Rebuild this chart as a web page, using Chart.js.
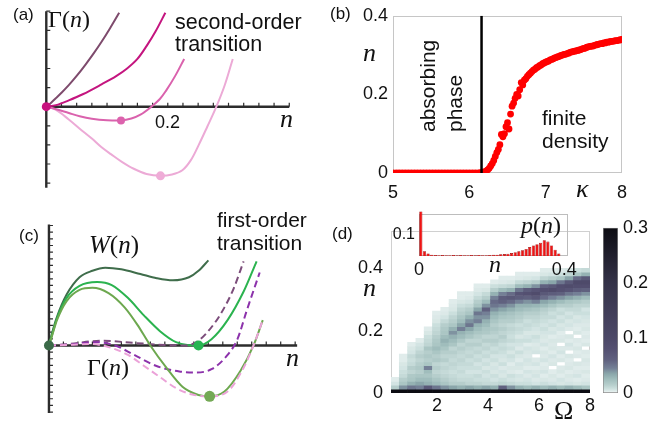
<!DOCTYPE html>
<html><head><meta charset="utf-8">
<script src="https://cdn.jsdelivr.net/npm/chart.js@4.4.1/dist/chart.umd.min.js"></script>
<style>
html,body{margin:0;padding:0;background:#fff;width:670px;height:429px;overflow:hidden;}
#wrap{position:relative;width:670px;height:429px;}
canvas{position:absolute;}
.t{position:absolute;white-space:nowrap;line-height:1;color:#111;font-family:"Liberation Sans",Arial,sans-serif;}
.m{font-family:"Liberation Serif","Times New Roman",serif;}
.rot{transform-origin:0 0;transform:rotate(-90deg);}
</style></head>
<body><div id="wrap">
<canvas id="cA" width="320" height="200" style="left:0;top:0"></canvas>
<canvas id="cC" width="320" height="229" style="left:0;top:200px"></canvas>
<canvas id="cB" width="350" height="210" style="left:320px;top:0"></canvas>
<canvas id="cD" width="290" height="217" style="left:320px;top:212px"></canvas>
<canvas id="cBar" width="80" height="200" style="left:590px;top:212px"></canvas>
<canvas id="cIn" width="200" height="82" style="left:380px;top:200px"></canvas>

<div class="t" style="left:13px;top:6px;font-size:17px">(a)</div>
<div class="t m" style="left:48px;top:7px;font-size:24px">Γ(<i>n</i>)</div>
<div class="t" style="left:175px;top:12px;font-size:21.5px">second-order</div>
<div class="t" style="left:175px;top:34px;font-size:21.5px">transition</div>
<div class="t m" style="left:280px;top:106px;font-size:26px"><i>n</i></div>
<div class="t" style="left:155px;top:113px;font-size:18px">0.2</div>

<div class="t" style="left:330px;top:5px;font-size:17px">(b)</div>
<div class="t m" style="left:363px;top:40px;font-size:26px"><i>n</i></div>
<div class="t rot" style="left:417px;top:132px;font-size:21px">absorbing</div>
<div class="t rot" style="left:444px;top:132px;font-size:21px">phase</div>
<div class="t" style="left:542px;top:107px;font-size:21px">finite</div>
<div class="t" style="left:542px;top:130px;font-size:21px">density</div>
<div class="t m" style="left:576px;top:176px;font-size:26px"><i>κ</i></div>

<div class="t" style="left:19px;top:227px;font-size:17px">(c)</div>
<div class="t m" style="left:89px;top:232px;font-size:25px"><i>W</i>(<i>n</i>)</div>
<div class="t m" style="left:87px;top:355px;font-size:24px">Γ(<i>n</i>)</div>
<div class="t" style="left:217px;top:209px;font-size:21px">first-order</div>
<div class="t" style="left:217px;top:232px;font-size:21px">transition</div>
<div class="t m" style="left:286px;top:345px;font-size:26px"><i>n</i></div>

<div class="t" style="left:332px;top:225px;font-size:17px">(d)</div>
<div class="t m" style="left:363px;top:275px;font-size:26px"><i>n</i></div>
<div class="t m" style="left:554px;top:398px;font-size:26px">Ω</div>
<div class="t m" style="left:521px;top:213px;font-size:24px"><i>p</i>(<i>n</i>)</div>
<div class="t m" style="left:489px;top:252px;font-size:24px"><i>n</i></div>
</div>
<script>
// ---------------- DATA ----------------
// (a) second-order: Gamma(n) curves
const a1N=[0,0.008,0.016,0.025,0.037,0.05,0.064,0.078,0.091,0.105,0.12];
const a1G=[0,0.21,0.45,0.73,1.13,1.61,2.18,2.79,3.4,4.11,4.92];
const a2N=[0,0.016,0.037,0.06,0.091,0.115,0.133,0.15,0.165,0.18,0.196];
const a2G=[0,0.08,0.33,0.65,1.17,1.6,2.0,2.5,3.17,3.95,4.92];
const a3N=[0,0.015,0.037,0.055,0.075,0.1,0.123,0.14,0.155,0.173,0.187,0.197,0.212,0.227];
const a3G=[0,-0.12,-0.33,-0.5,-0.63,-0.71,-0.72,-0.62,-0.42,0,0.4,0.83,1.6,2.5];
const a4N=[0,0.016,0.037,0.055,0.075,0.09,0.107,0.125,0.144,0.165,0.188,0.207,0.224,0.238,0.251,0.265,0.28,0.294,0.307];
const a4G=[0,-0.17,-0.67,-1.15,-1.67,-2.1,-2.5,-2.9,-3.25,-3.52,-3.62,-3.55,-3.33,-2.8,-2.0,-1.05,0,1.15,2.5];
const aDotN=[0,0.123,0.188];
const aDotG=[0,-0.72,-3.62];
const aTicksX=[0.025,0.05,0.075,0.1,0.125,0.15,0.175,0.2,0.225,0.25,0.275,0.3,0.325,0.35,0.375,0.4];
const aTicksY=[-4,-3,-2,-1,1,2,3,4,5];

// (b) order parameter n vs kappa
const kappa=[5.00,5.04,5.08,5.12,5.16,5.20,5.24,5.28,5.32,5.36,
5.40,5.44,5.48,5.52,5.56,5.60,5.64,5.68,5.72,5.76,
5.80,5.84,5.88,5.92,5.96,6.00,6.04,6.08,6.12,6.14,
6.16,6.18,6.20,6.22,6.24,6.26,6.28,6.30,6.32,6.34,
6.36,6.38,6.40,6.42,6.44,6.46,6.48,6.50,6.52,6.54,
6.56,6.58,6.60,6.62,6.64,6.66,6.68,6.70,6.72,6.74,
6.76,6.78,6.80,6.82,6.84,6.86,6.88,6.90,6.92,6.94,
6.96,6.98,7.00,7.02,7.04,7.06,7.08,7.10,7.12,7.14,
7.16,7.18,7.20,7.22,7.24,7.26,7.28,7.30,7.32,7.34,
7.36,7.38,7.40,7.42,7.44,7.46,7.48,7.50,7.52,7.54,
7.56,7.58,7.60,7.62,7.64,7.66,7.68,7.70,7.72,7.74,
7.76,7.78,7.80,7.82,7.84,7.86,7.88,7.90,7.92,7.94,
7.96,7.98,8.00];
const nB=[0,0,0,0,0,0,0,0,0,0,
0,0,0,0,0,0,0,0,0,0,
0,0,0,0,0,0,0,0,0,0,
0.001,0.002,0.003,0.005,0.008,0.012,0.018,0.024,0.032,0.042,
0.052,0.060,0.072,0.098,0.092,0.100,0.118,0.128,0.112,0.150,
0.170,0.178,0.190,0.200,0.196,0.212,0.230,0.224,0.236,0.240,
0.246,0.250,0.254,0.258,0.262,0.264,0.268,0.270,0.273,0.275,
0.278,0.280,0.282,0.284,0.285,0.288,0.289,0.291,0.293,0.294,
0.296,0.297,0.299,0.300,0.302,0.302,0.304,0.305,0.307,0.308,
0.309,0.310,0.311,0.312,0.313,0.314,0.316,0.317,0.318,0.320,
0.321,0.322,0.323,0.323,0.325,0.326,0.327,0.328,0.329,0.329,
0.331,0.331,0.333,0.333,0.334,0.335,0.335,0.336,0.337,0.337,
0.338,0.339,0.340];
const kappaCrit=6.16;
const bTicksX=[5,6,7,8];
const bTicksY=[0,0.2,0.4];

// (c) first-order: W(n) (solid) and Gamma(n) (dashed)
const cWN=[0,0.0052,0.013,0.0286,0.0495,0.0703,0.0911,0.117,0.148,0.1745,0.2005,0.2266,0.242,0.258];
const cWV=[0,0.67,1.5,2.67,3.58,3.92,4.08,4.0,3.75,3.53,3.42,3.58,3.92,4.47];
const cGN=[0,0.0052,0.013,0.0286,0.0495,0.078,0.1016,0.1276,0.1536,0.1797,0.2057,0.224,0.242,0.263,0.289,0.315,0.336];
const cGV=[0,0.58,1.42,2.5,3.13,3.33,3.17,2.5,1.58,0.75,0.17,0.02,0,0.33,1.33,2.83,4.42];
const cON=[0,0.0052,0.013,0.0286,0.0495,0.0703,0.0964,0.1224,0.1432,0.164,0.19,0.216,0.242,0.26,0.284,0.31,0.331,0.346];
const cOV=[0,0.53,1.33,2.33,2.92,3.03,2.75,2.0,1.08,0,-1.17,-2.17,-2.6,-2.67,-2.42,-1.33,0,1.33];
const dMN=[0,0.034,0.086,0.138,0.19,0.221,0.242,0.268,0.284,0.299,0.315];
const dMV=[0,0.08,0.25,0.13,0.02,0,0.25,1.17,2.0,3.0,4.42];
const dPN=[0,0.034,0.076,0.107,0.138,0.174,0.211,0.237,0.263,0.289,0.305,0.32,0.341];
const dPV=[0,0.05,0.17,0,-0.5,-1.08,-1.37,-1.42,-1.25,-0.5,0.33,1.83,3.83];
const dKN=[0,0.034,0.065,0.096,0.128,0.154,0.18,0.206,0.232,0.26,0.289,0.315,0.331,0.346];
const dKV=[0,0.03,0.08,-0.08,-0.5,-1.08,-1.67,-2.25,-2.58,-2.67,-2.42,-1.17,0,1.33];
const cDotN=[0,0.242,0.26];
const cDotV=[0,0,-2.67];
const cTicksX=[0.0234,0.0469,0.0703,0.0938,0.1172,0.1406,0.1641,0.1875,0.2109,0.2344,0.2578,0.2813,0.3047,0.3281,0.3516,0.375,0.3984];
const cTicksY=[-3.5,-3.15,-2.8,-2.45,-2.1,-1.75,-1.4,-1.05,-0.7,-0.35,0.35,0.7,1.05,1.4,1.75,2.1,2.45,2.8,3.15,3.5,3.85,4.2,4.55,4.9,5.25,5.6,5.95,6.3];

// (d) histogram heat map p(n) vs Omega (values in thousandths), rows from n=0 upward
const omegaCenters=[0.3625,0.6875,1.0125,1.3375,1.6625,1.9875,2.3125,2.6375,2.9625,3.2875,3.6125,3.9375,4.2625,4.5875,4.9125,5.2375,5.5625,5.8875,6.2125,6.5375,6.8625,7.1875,7.5125,7.8375];
const nBinWidth=0.0125;
const heatCols=[
[300,15,6,3,0,0,0,0,0,0,0,0,0,0,0,0,0,0,0,0,0,0,0,0,0,0,0,0,0,0,0,0],
[300,40,20,15,10,8,6,5,3,3,0,0,0,0,0,0,0,0,0,0,0,0,0,0,0,0,0,0,0,0,0,0],
[300,50,30,20,18,12,15,10,8,10,6,5,3,0,0,0,0,0,0,0,0,0,0,0,0,0,0,0,0,0,0,0],
[300,45,35,25,20,15,18,15,12,15,12,8,6,3,0,0,0,0,0,0,0,0,0,0,0,0,0,0,0,0,0,0],
[300,70,30,25,20,25,45,20,15,18,15,20,12,10,8,5,3,0,0,0,0,0,0,0,0,0,0,0,0,0,0,0],
[300,50,25,20,15,12,15,12,18,15,20,25,20,18,15,12,10,8,5,4,3,0,0,0,0,0,0,0,0,0,0,0],
[300,40,20,15,12,10,12,10,15,12,15,20,25,30,25,20,18,15,10,6,4,3,0,0,0,0,0,0,0,0,0,0],
[300,35,15,12,10,8,10,12,10,12,15,12,20,25,30,40,30,20,15,12,8,5,4,3,0,0,0,0,0,0,0,0],
[300,30,15,10,8,10,8,10,12,10,12,15,12,18,25,30,45,35,25,20,15,12,8,5,3,3,0,0,0,0,0,0],
[300,35,12,10,8,6,8,10,8,12,10,12,15,12,20,25,35,50,40,30,20,15,10,6,4,3,0,0,0,0,0,0],
[300,30,12,8,10,6,8,6,10,8,12,10,15,12,15,20,25,30,45,40,50,35,20,15,10,6,4,3,0,0,0,0],
[300,35,10,8,6,8,5,8,6,10,8,12,10,15,12,18,20,25,30,40,45,60,40,25,15,10,5,3,0,0,0,0],
[300,30,10,6,8,5,6,5,8,6,10,8,12,15,12,15,18,15,20,25,30,40,50,55,45,30,15,8,3,0,0,0],
[300,60,12,8,5,6,4,8,5,6,8,10,8,12,15,12,15,12,15,20,25,35,45,60,65,45,25,10,4,3,0,0],
[300,40,10,6,8,4,5,3,6,8,5,8,6,10,8,10,12,10,15,18,22,30,40,55,70,55,30,12,5,3,0,0],
[300,30,8,5,6,3,5,6,3,5,8,4,6,8,5,8,10,8,12,15,18,25,30,45,65,75,50,25,10,4,3,0],
[300,25,8,6,4,6,3,5,6,4,5,6,3,8,6,5,8,10,8,12,15,22,30,40,60,80,65,30,12,5,3,0],
[300,30,6,4,6,5,3,6,4,0,6,5,4,6,8,5,6,8,10,12,15,20,28,45,70,90,75,40,15,6,3,0],
[300,25,8,5,3,6,4,3,6,4,5,3,6,4,5,6,8,6,8,10,12,15,25,35,55,70,85,60,30,12,5,3],
[300,30,6,4,5,3,0,5,4,6,3,5,4,5,3,6,5,8,6,10,8,12,20,30,45,65,90,70,35,15,6,3],
[300,25,5,6,3,5,4,0,5,3,6,4,0,5,4,3,6,5,8,6,10,8,15,25,40,60,80,85,50,20,8,4],
[300,30,6,4,5,3,5,4,3,5,0,4,6,3,5,0,4,6,5,8,6,10,15,20,35,50,75,90,70,35,12,5],
[300,25,5,3,6,4,3,5,0,4,3,5,3,4,0,5,3,4,6,5,8,10,12,18,30,45,65,85,95,55,20,8],
[300,20,6,4,3,5,3,4,5,3,4,0,5,3,4,3,5,4,5,6,8,6,12,15,25,40,60,85,95,70,30,10]
];
const dTicksX=[2,4,6,8];
const dTicksY=[0,0.2,0.4];
const cbarTicks=[0,0.1,0.2,0.3];

// (d) inset histogram p(n)
const nHist=[0.005,0.015,0.025,0.035,0.045,0.055,0.065,0.075,0.085,0.095,0.105,0.115,0.125,0.135,0.145,0.155,0.165,0.175,0.185,0.195,0.205,0.215,0.225,0.235,0.245,0.255,0.265,0.275,0.285,0.295,0.305,0.315,0.325,0.335,0.345,0.355,0.365,0.375,0.385,0.395];
const pHist=[0.21,0.022,0.012,0.006,0.005,0.004,0.005,0.004,0.004,0.005,0.003,0.005,0.004,0.004,0.005,0.003,0.005,0.004,0.004,0.005,0.006,0.006,0.008,0.009,0.011,0.014,0.018,0.022,0.027,0.033,0.042,0.05,0.056,0.062,0.074,0.068,0.05,0.03,0.012,0];

// ---------------- STYLE / HELPERS ----------------
const SANS='"Liberation Sans", Arial, sans-serif';
Chart.defaults.font.family=SANS;
Chart.defaults.color='#111';
const cmapStops=[[0,[255,255,255]],[0.003,[224,236,235]],[0.008,[203,223,221]],[0.015,[182,206,204]],[0.025,[160,189,188]],[0.035,[138,166,170]],[0.045,[116,128,150]],[0.06,[96,97,127]],[0.08,[84,80,113]],[0.1,[76,72,103]],[0.2,[52,50,72]],[0.3,[12,12,18]]];
function cmap(v){
  if(v<=0) return 'rgb(255,255,255)';
  for(let i=1;i<cmapStops.length;i++){
    const [v1,c1]=cmapStops[i];
    if(v<=v1){const [v0,c0]=cmapStops[i-1];const t=(v-v0)/(v1-v0);
      return 'rgb('+c0.map((c,j)=>Math.round(c+(c1[j]-c)*t)).join(',')+')';}
  }
  return 'rgb(12,12,18)';
}
const pts=(xs,ys)=>xs.map((x,i)=>({x:x,y:ys[i]}));
function base(){return {responsive:false,animation:false,devicePixelRatio:1,events:[],plugins:{legend:{display:false},tooltip:{enabled:false}}};}
function curve(xs,ys,color,order,dash,mono){return {data:pts(xs,ys),borderColor:color,borderWidth:2,pointRadius:0,
  cubicInterpolationMode:mono?'monotone':'default',tension:0.35,fill:false,order:order,borderDash:dash||[]};}
function mathAxes(p){return {id:'mathAxes',beforeDatasetsDraw(ch){
  const c=ch.ctx,x=ch.scales.x,y=ch.scales.y;const x0=x.getPixelForValue(0),y0=y.getPixelForValue(0);
  c.save();c.strokeStyle='#2c2c2c';c.lineWidth=2.4;c.beginPath();
  c.moveTo(x0,y.getPixelForValue(p.yTop));c.lineTo(x0,y.getPixelForValue(p.yBottom));
  c.moveTo(x0,y0);c.lineTo(x.getPixelForValue(p.xEnd),y0);c.stroke();
  c.lineWidth=1.2;c.beginPath();
  p.xTicks.forEach(v=>{const px=x.getPixelForValue(v);c.moveTo(px,y0);c.lineTo(px,y0-p.tl);});
  p.yTicks.forEach(v=>{const py=y.getPixelForValue(v);c.moveTo(x0,py);c.lineTo(x0+p.tl,py);});
  c.stroke();c.restore();}};}
function box(color,after){const f=function(ch){const a=ch.chartArea,c=ch.ctx;c.save();c.strokeStyle=color;c.lineWidth=1;
  c.strokeRect(Math.round(a.left)+0.5,Math.round(a.top)+0.5,Math.round(a.right-a.left)-1,Math.round(a.bottom-a.top)-1);c.restore();};
  return after?{id:'boxA',afterDatasetsDraw:f}:{id:'boxB',beforeDatasetsDraw:f};}
const fixTicks=arr=>s=>{s.ticks=arr.map(v=>({value:v}));};

// ---------------- (a) ----------------
new Chart(document.getElementById('cA'),{type:'line',
 data:{datasets:[
  {data:pts(aDotN,aDotG),showLine:false,pointRadius:[4.5,4,4.5],pointBackgroundColor:['#c8127f','#dc62ad','#efacd7'],pointBorderWidth:0,order:0},
  curve(a1N,a1G,'#7e4b6d',1),curve(a2N,a2G,'#c4157f',2),curve(a3N,a3G,'#da62ad',3),curve(a4N,a4G,'#ecaad6',4)]},
 options:Object.assign(base(),{layout:{padding:0},
  scales:{x:{type:'linear',display:false,min:-0.0688,max:0.4432},y:{type:'linear',display:false,min:-4.65,max:5.35}}}),
 plugins:[mathAxes({xEnd:0.4,yTop:5,yBottom:-4.25,xTicks:aTicksX,yTicks:aTicksY,tl:4})]});

// ---------------- (c) ----------------
new Chart(document.getElementById('cC'),{type:'line',
 data:{datasets:[
  {data:pts(cDotN,cDotV),showLine:false,pointRadius:[5,5,5.5],pointBackgroundColor:['#3b6a48','#27b552','#74a955'],pointBorderWidth:0,order:0},
  curve(dKN,dKV,'#eba2d8',1,[7,4],true),
  curve(cON,cOV,'#6da84f',2,null,true),
  curve(dPN,dPV,'#8c32ab',3,[7,4],true),
  curve(dMN,dMV,'#7c4d7b',4,[7,4],true),
  curve(cGN,cGV,'#2bb34f',5,null,true),
  curve(cWN,cWV,'#3f6d4b',6,null,true)]},
 options:Object.assign(base(),{layout:{padding:0},
  scales:{x:{type:'linear',display:false,min:-0.0703125,max:0.4296875},y:{type:'linear',display:false,min:-4.1,max:7.35}}}),
 plugins:[mathAxes({xEnd:0.4016,yTop:6.35,yBottom:-3.55,xTicks:cTicksX,yTicks:cTicksY,tl:4})]});

// ---------------- (b) ----------------
new Chart(document.getElementById('cB'),{type:'scatter',
 data:{datasets:[
  {type:'line',data:[{x:kappaCrit,y:0},{x:kappaCrit,y:0.4}],borderColor:'#000',borderWidth:2.5,pointRadius:0,order:0},
  {data:pts(kappa,nB),backgroundColor:'#ff0000',pointRadius:3.4,pointBorderWidth:0,borderWidth:0,order:1}]},
 options:Object.assign(base(),{layout:{padding:{top:10,right:48,left:0,bottom:0}},
  scales:{
   x:{type:'linear',min:5,max:8,afterBuildTicks:fixTicks(bTicksX),afterFit:s=>{s.height=37;},grid:{display:false,drawTicks:false},border:{display:false},ticks:{padding:9,font:{size:18},color:'#111'}},
   y:{type:'linear',min:0,max:0.4,afterBuildTicks:fixTicks(bTicksY),afterFit:s=>{s.width=73;},grid:{display:false,drawTicks:false},border:{display:false},ticks:{padding:5,font:{size:18},color:'#111',callback:v=>String(v)}}}}),
 plugins:[box('#c6c6c6',false)]});

// ---------------- (d) heat map ----------------
const cells=[],cellColors=[];
omegaCenters.forEach((om,k)=>{heatCols[k].forEach((v,r)=>{ if(v>0){cells.push({x:om,y:[r*nBinWidth,(r+1)*nBinWidth]});cellColors.push(cmap(v/1000));}});});
new Chart(document.getElementById('cD'),{type:'bar',
 data:{datasets:[{data:cells,backgroundColor:cellColors,borderWidth:0,barPercentage:1,categoryPercentage:1}]},
 options:Object.assign(base(),{layout:{padding:{top:8,right:20,left:0,bottom:0}},
  scales:{
   x:{type:'linear',min:0.2,max:8,offset:false,afterBuildTicks:fixTicks(dTicksX),afterFit:s=>{s.height=36;},grid:{display:false,drawTicks:false},border:{display:false},ticks:{padding:2,font:{size:18},color:'#111'}},
   y:{type:'linear',min:0,max:0.52,afterBuildTicks:fixTicks(dTicksY),afterFit:s=>{s.width=71;},grid:{display:false,drawTicks:false},border:{display:false},ticks:{padding:8,font:{size:18},color:'#111',callback:v=>String(v)}}}}),
 plugins:[box('#d0d0d0',false)]});

// ---------------- colorbar ----------------
new Chart(document.getElementById('cBar'),{type:'bar',
 data:{labels:[''],datasets:[{data:[[0,0.3]],barPercentage:1,categoryPercentage:1,borderWidth:1,borderColor:'#8a8a8a',borderSkipped:false,
  backgroundColor:(ctx)=>{const ch=ctx.chart;if(!ch.chartArea)return '#fff';const y=ch.scales.y;
   const g=ch.ctx.createLinearGradient(0,y.getPixelForValue(0),0,y.getPixelForValue(0.3));
   cmapStops.forEach(([v,rgb])=>g.addColorStop(v/0.3,'rgb('+rgb.join(',')+')'));return g;}}]},
 options:Object.assign(base(),{layout:{padding:{top:10,right:0,left:13,bottom:19}},
  scales:{
   x:{display:false},
   y:{position:'right',min:0,max:0.3,afterBuildTicks:fixTicks(cbarTicks),afterFit:s=>{s.width=52;},grid:{display:false,drawTicks:false},border:{display:false},ticks:{padding:5,font:{size:18},color:'#111',callback:v=>String(v)}}}})});

// ---------------- inset histogram ----------------
new Chart(document.getElementById('cIn'),{type:'bar',
 data:{datasets:[{data:pts(nHist,pHist),backgroundColor:'#ee1414',borderColor:'#9a0000',borderWidth:0.6,barPercentage:0.88,categoryPercentage:1,clip:false}]},
 options:Object.assign(base(),{layout:{padding:{top:9,right:11,left:0,bottom:0}},
  scales:{
   x:{type:'linear',min:0,max:0.41,offset:false,afterBuildTicks:fixTicks([0,0.4]),afterFit:s=>{s.height=26;},grid:{display:false,drawTicks:false},border:{display:false},ticks:{padding:3,font:{size:18},color:'#111',callback:v=>String(v)}},
   y:{type:'linear',min:0,max:0.2,afterBuildTicks:fixTicks([0.1]),afterFit:s=>{s.width=39;},grid:{display:false,drawTicks:false},border:{display:false},ticks:{padding:4,font:{size:16},color:'#111',callback:v=>String(v)}}}}),
 plugins:[box('#bdbdbd',false)]});
</script>
</body></html>
